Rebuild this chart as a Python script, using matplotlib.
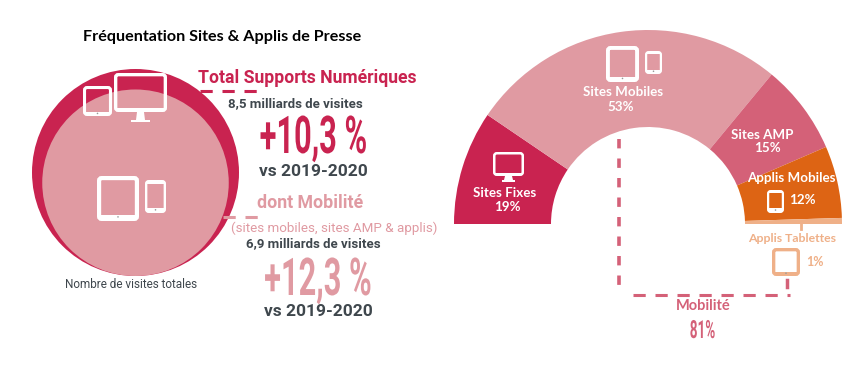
# -*- coding: utf-8 -*-
import numpy as np
import matplotlib
matplotlib.use('Agg')
import matplotlib.pyplot as plt
from matplotlib.patches import Circle, FancyBboxPatch, Rectangle
from matplotlib.patheffects import AbstractPathEffect
from matplotlib.transforms import Affine2D

W, H = 867, 387

# data
part_labels = ['Sites Fixes', 'Sites Mobiles', 'Sites AMP', 'Applis Mobiles', 'Applis Tablettes']
part_values = [19, 53, 15, 12, 1]
part_colors = ['#C92350', '#E09AA2', '#D46178', '#DD6414', '#EFB088']
visits_total = 8.5
visits_mobile = 6.9

CRIMSON = '#C92350'
PINK = '#E09AA2'
AMP = '#D46178'
PEACH = '#EFB088'
GREY = '#3F474D'

SANS = ['Roboto', 'DejaVu Sans']
LATO = ['Lato', 'DejaVu Sans']

fig = plt.figure(figsize=(W / 100, H / 100), dpi=100, facecolor='white')

# half donut, the pie axes spans exactly the radius
ax_pie = fig.add_axes([454 / W, 1 - 224 / H, 388 / W, 194 / H])
ax_pie.pie(np.array(part_values) / 200, colors=part_colors, startangle=180, counterclock=False,
           normalize=False, radius=1, wedgeprops={'width': 0.5, 'linewidth': 0})
ax_pie.set_aspect('auto')
ax_pie.set_xlim(-1, 1)
ax_pie.set_ylim(0, 1)
ax_pie.axis('off')

# overlay in pixels, for circles, icons and labels
ax = fig.add_axes([0, 0, 1, 1], facecolor='none')
ax.set_xlim(0, W)
ax.set_ylim(H, 0)
ax.axis('off')

# circles, areas scale with visits, tangent at the bottom
r_total = 103.5
r_mobile = r_total * np.sqrt(visits_mobile / visits_total)
bottom = 276
ax.add_patch(Circle((135.5, bottom - r_total), r_total, fc=CRIMSON, ec='none'))
ax.add_patch(Circle((135.5, bottom - r_mobile), r_mobile, fc=PINK, ec='none'))


def rounded(x0, y0, x1, y1, color, lw, rad=2.5):
    p = FancyBboxPatch((x0, y0), x1 - x0, y1 - y0, boxstyle='round,pad=0,rounding_size=%s' % rad,
                       fc='none', ec=color, lw=lw, zorder=5)
    ax.add_patch(p)


def device(x0, y0, x1, y1, color='white', top=0.09, bot=0.11, dot=True, lw=2.0):
    # tablet or phone, thick border with a bigger chin
    h = y1 - y0
    t = lw * 1.39
    rounded(x0 + t / 2, y0 + t / 2, x1 - t / 2, y1 - t / 2, color, lw)
    ax.add_patch(Rectangle((x0 + t / 2, y0 + t / 2), x1 - x0 - t, h * top, fc=color, ec='none', zorder=5))
    ax.add_patch(Rectangle((x0 + t / 2, y1 - t / 2 - h * bot), x1 - x0 - t, h * bot, fc=color, ec='none', zorder=5))
    if dot:
        ax.add_patch(Circle(((x0 + x1) / 2, y1 - t / 2 - h * bot / 2), 0.8, fc='#999999', ec='none', zorder=6))


def monitor(x0, y0, x1, y1, y_stand, sx0, sx1, color='white', lw=2.0):
    t = lw * 1.39
    rounded(x0 + t / 2, y0 + t / 2, x1 - t / 2, y1 - t / 2, color, lw)
    ax.add_patch(Rectangle((x0 + t / 2, y1 - t * 1.3), x1 - x0 - t, t, fc=color, ec='none', zorder=5))
    xm = (sx0 + sx1) / 2
    ax.fill([xm - 3.5, xm + 3.5, xm + 4.5, sx1, sx1, sx0, sx0, xm - 4.5],
            [y1, y1, y_stand - 2, y_stand - 2, y_stand, y_stand, y_stand - 2, y_stand - 2],
            color=color, lw=0, zorder=5)


# icons, left
device(83, 86, 112, 116, top=0.05, bot=0.07, lw=2.2)
monitor(114, 73, 167, 112, 122, 131, 150, lw=2.4)
device(97, 176, 139, 221, top=0.03, bot=0.09, lw=3.0)
device(145, 180, 166, 213, top=0.1, bot=0.12, lw=1.7)

# icons, right
device(606, 46, 639, 82, top=0.03, bot=0.09, lw=2.8)
device(645, 51, 662, 74, top=0.1, bot=0.14, lw=1.6)
monitor(493, 152, 524, 176, 182, 502, 515, lw=1.8)
device(767, 190, 784, 213, top=0.07, bot=0.16, lw=1.6)
device(772, 248, 800, 276, color=PEACH, top=0.03, bot=0.08, lw=2.4)

# dashed leaders
dash = dict(lw=2.2, dashes=(4, 3.2), solid_capstyle='butt', dash_capstyle='butt', zorder=4)
ax.plot([200, 262], [91, 91], color=CRIMSON, **dash)
ax.plot([223, 260], [217, 217], color=PINK, **dash)
ax.plot([619, 619], [139, 293], color=AMP, **dict(dash, lw=2.6, dashes=(2.6, 2.8)))
ax.plot([633, 790], [295, 295], color=AMP, **dash)
ax.plot([787, 787], [280, 287], color=AMP, lw=2.5)
ax.plot([801, 801], [224, 229], color=PEACH, lw=2)


class Squeeze(AbstractPathEffect):
    # condensed look: no condensed font here, so narrow the glyphs around a centre x
    def __init__(self, cx, sx):
        super().__init__()
        self.cx = cx
        self.sx = sx

    def draw_path(self, renderer, gc, tpath, affine, rgbFace=None):
        squeeze = Affine2D().translate(-self.cx, 0).scale(self.sx, 1).translate(self.cx, 0)
        renderer.draw_path(gc, tpath, affine + squeeze, rgbFace)


def txt(x, y, s, size, color, family=SANS, weight='bold'):
    ax.text(x, y, s, fontsize=size, color=color, family=family, weight=weight,
            ha='center', va='center', zorder=7)


def big(x, y, s, size, color, sx):
    ax.text(x, y, s, fontsize=size, color=color, family=SANS, weight='bold', ha='center',
            va='baseline', zorder=7, path_effects=[Squeeze(x, sx)])


# left block
txt(222.5, 37, 'Fréquentation Sites & Applis de Presse', 11.6, 'black', LATO)
txt(307, 78, 'Total Supports Numériques', 12.7, CRIMSON)
txt(295.5, 104, '8,5 milliards de visites', 9.5, GREY)
big(313.5, 153, '+10,3 %', 37.5, CRIMSON, 0.59)
txt(313.5, 171, 'vs 2019-2020', 12.5, GREY)
txt(310.5, 203, 'dont Mobilité', 12.8, PINK)
txt(334, 228, '(sites mobiles, sites AMP & applis)', 9.6, PINK, weight='normal')
txt(313, 244, '6,9 milliards de visites', 9.5, GREY)
big(318, 295, '+12,3 %', 37.5, PINK, 0.59)
txt(318, 312, 'vs 2019-2020', 12.5, GREY)
txt(131, 284, 'Nombre de visites totales', 8.5, GREY, weight='normal')

# right block
txt(505, 193, part_labels[0], 9.6, 'white', LATO)
txt(507, 207, '%d%%' % part_values[0], 9.6, 'white', LATO)
txt(623, 92, part_labels[1], 9.6, 'white', LATO)
txt(621, 107, '%d%%' % part_values[1], 9.6, 'white', LATO)
txt(762, 135, part_labels[2], 9.6, 'white', LATO)
txt(767, 148, '%d%%' % part_values[2], 9.6, 'white', LATO)
txt(791, 178, part_labels[3], 9.6, 'white', LATO)
txt(802, 200, '%d%%' % part_values[3], 9.6, 'white', LATO)
txt(792, 238, part_labels[4], 8.8, PEACH, LATO)
txt(815, 262, '%d%%' % part_values[4], 9, PEACH, LATO)
txt(703, 306, 'Mobilité', 10.5, AMP, LATO)
big(702.5, 338, '%d%%' % (part_values[1] + part_values[2] + part_values[3] + part_values[4]),
    18, AMP, 0.54)

fig.savefig('out.png', dpi=100)
